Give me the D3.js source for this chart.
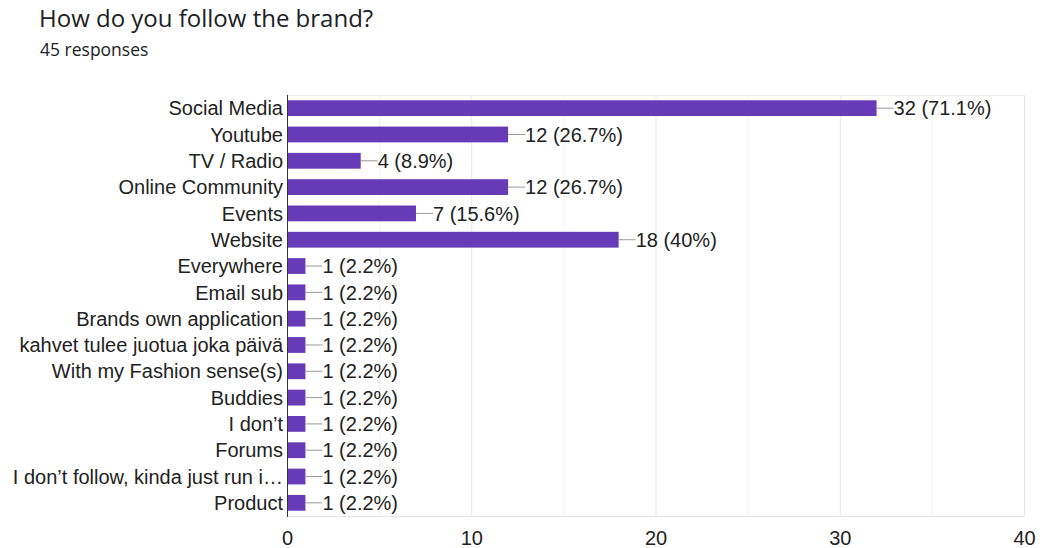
<!DOCTYPE html>
<html>
<head>
<meta charset="utf-8">
<script src="https://cdn.jsdelivr.net/npm/d3@7"></script>
<style>
	body { margin: 0; background: #fff; }
	.title { font-family: "Open Sans", Roboto, sans-serif; font-size: 24px; fill: #202124; }
	.sub { font-family: "Open Sans", Roboto, sans-serif; font-size: 17.5px; fill: #202124; }
	text.cat, text.val, .tick text { font-family: "Liberation Sans", Arial, sans-serif; font-size: 20px; fill: #222; }
</style>
</head>
<body>
<div id="chart"></div>
<script>

var categories = ['Social Media','Youtube','TV / Radio','Online Community','Events','Website','Everywhere','Email sub',
	'Brands own application','kahvet tulee juotua joka päivä','With my Fashion sense(s)','Buddies','I don’t','Forums',
	'I don’t follow, kinda just run i…','Product'];
var counts = [32, 12, 4, 12, 7, 18, 1, 1, 1, 1, 1, 1, 1, 1, 1, 1];
var percents = ['71.1%','26.7%','8.9%','26.7%','15.6%','40%','2.2%','2.2%','2.2%','2.2%','2.2%','2.2%','2.2%','2.2%','2.2%','2.2%'];
var xTicks = [0, 10, 20, 30, 40];
var gridTicks = [5, 10, 15, 20, 25, 30, 35, 40];

var w = 1040, h = 548;
var plotLeft = 287, plotRight = 1024, plotTop = 95, plotBottom = 516;

var svg = d3.select('#chart')
	.append('svg')
	.attr('width', w)
	.attr('height', h);

svg.append('text').attr('class','title').attr('x', 39).attr('y', 27).text('How do you follow the brand?');
svg.append('text').attr('class','sub').attr('x', 40).attr('y', 56).text('45 responses');

var x = d3.scaleLinear().domain([0, 40]).range([plotLeft, plotRight]);
var y = d3.scaleBand().domain(categories).range([plotTop, plotBottom]).paddingInner(0.4).paddingOuter(0.2);

// grid
svg.selectAll('line.grid')
	.data(gridTicks)
	.enter()
	.append('line')
	.attr('x1', function(d){ return x(d) + 0.5 })
	.attr('x2', function(d){ return x(d) + 0.5 })
	.attr('y1', plotTop)
	.attr('y2', plotBottom)
	.attr('stroke', function(d){ return d % 10 == 0 ? '#e6e6e6' : '#f2f2f2' });

svg.append('line').attr('x1', plotLeft).attr('x2', plotRight).attr('y1', plotTop + 0.5).attr('y2', plotTop + 0.5).attr('stroke', '#ececec');
svg.append('line').attr('x1', plotLeft).attr('x2', plotRight).attr('y1', plotBottom + 0.5).attr('y2', plotBottom + 0.5).attr('stroke', '#e6e6e6');

var data = categories.map(function(c, i){ return {name: c, val: counts[i], pct: percents[i]} });

svg.selectAll('rect.bar')
	.data(data)
	.enter()
	.append('rect')
	.attr('class', 'bar')
	.attr('fill', '#673ab7')
	.attr('x', x(0))
	.attr('y', function(d){ return y(d.name) })
	.attr('width', function(d){ return x(d.val) - x(0) })
	.attr('height', y.bandwidth());

// leader lines
svg.selectAll('line.lead')
	.data(data)
	.enter()
	.append('line')
	.attr('x1', function(d){ return x(d.val) })
	.attr('x2', function(d){ return x(d.val) + 17 })
	.attr('y1', function(d){ return y(d.name) + y.bandwidth()/2 })
	.attr('y2', function(d){ return y(d.name) + y.bandwidth()/2 })
	.attr('stroke', '#999')
	.attr('stroke-width', 1);

svg.selectAll('text.val')
	.data(data)
	.enter()
	.append('text')
	.attr('class', 'val')
	.attr('x', function(d){ return x(d.val) + 17 })
	.attr('y', function(d){ return y(d.name) + y.bandwidth()/2 })
	.attr('dy', '0.36em')
	.text(function(d){ return d.val + ' (' + d.pct + ')' });

svg.selectAll('text.cat')
	.data(data)
	.enter()
	.append('text')
	.attr('class', 'cat')
	.attr('x', plotLeft - 4)
	.attr('y', function(d){ return y(d.name) + y.bandwidth()/2 })
	.attr('dy', '0.36em')
	.attr('text-anchor', 'end')
	.text(function(d){ return d.name });

// zero line
svg.append('line').attr('x1', plotLeft + 0.5).attr('x2', plotLeft + 0.5).attr('y1', plotTop).attr('y2', plotBottom + 1).attr('stroke', '#333');

var xAxis = d3.axisBottom(x).tickValues(xTicks).tickSize(0).tickPadding(15);
var gx = svg.append('g').attr('transform', 'translate(0,' + plotBottom + ')').call(xAxis);
gx.select('.domain').remove();
gx.selectAll('.tick text').attr('fill', '#444');

</script>
</body>
</html>
